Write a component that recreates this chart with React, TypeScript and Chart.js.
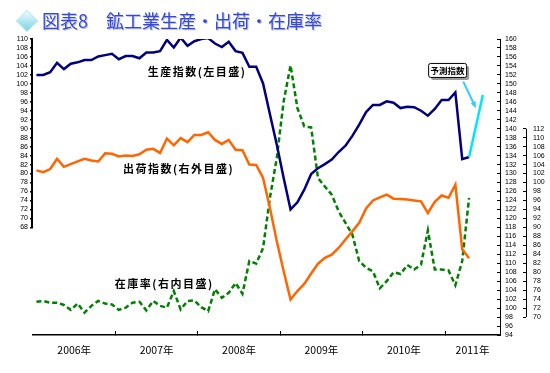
import React, { useEffect, useRef } from 'react';
import { Chart, registerables } from 'chart.js';

Chart.register(...registerables);

// ---------- data ----------
const firstYear = 2006;
const monthCount = 68; // 2006-01 .. 2011-08
const months: string[] = [];
for (let i = 0; i < monthCount; i++) {
  const y = firstYear + Math.floor(i / 12);
  const m = (i % 12) + 1;
  months.push(`${y}-${m < 10 ? '0' + m : m}`);
}
const yearLabels = ['2006年', '2007年', '2008年', '2009年', '2010年', '2011年'];

// 鉱工業生産指数 (left axis) 2006-01 .. 2011-04
const production = [
  102.0, 102.0, 102.6, 104.7, 103.3, 104.5, 104.8, 105.3, 105.3, 106.1, 106.4, 106.7,
  105.5, 106.2, 106.2, 105.7, 107.0, 107.0, 107.3, 109.8, 108.1, 110.3, 108.5, 109.5,
  110.0, 110.2, 109.0, 108.2, 109.4, 107.3, 106.9, 103.8, 103.8, 100.1, 93.2, 86.4,
  79.0, 72.0, 73.6, 76.4, 79.9, 81.2, 82.1, 83.1, 84.8, 86.2, 88.4, 90.9,
  93.7, 95.3, 95.3, 96.1, 95.8, 94.6, 94.9, 94.8, 94.0, 92.9, 94.4, 96.4,
  96.4, 98.1, 83.2, 83.7,
];
// 出荷指数 (right outer axis)
const shipments = [
  102.7, 102.3, 103.0, 105.3, 103.5, 104.1, 104.7, 105.3, 104.9, 104.7, 106.5, 106.4,
  105.8, 106.0, 105.9, 106.3, 107.3, 107.5, 106.6, 109.8, 108.3, 109.9, 109.0, 110.6,
  110.6, 111.2, 109.5, 108.6, 109.5, 107.3, 107.2, 104.0, 103.9, 101.0, 94.3, 86.9,
  80.2, 73.9, 75.8, 77.4, 79.7, 81.9, 83.2, 83.9, 85.4, 87.3, 89.1, 91.0,
  94.2, 96.0, 96.7, 97.3, 96.4, 96.3, 96.2, 96.0, 95.8, 93.2, 95.7, 97.1,
  96.6, 99.5, 85.1, 83.1,
];
// 在庫率 (right inner axis)
const inventoryRatio = [
  101.4, 101.6, 101.2, 101.2, 100.7, 99.6, 101.0, 99.0, 100.5, 101.6, 101.0, 100.8,
  99.6, 100.1, 101.2, 101.4, 99.5, 101.6, 100.5, 100.1, 103.8, 99.7, 101.6, 101.7,
  100.2, 99.3, 104.2, 102.3, 103.4, 105.6, 103.2, 110.5, 109.9, 113.4, 124.6, 133.5,
  146.1, 154.1, 144.6, 140.5, 140.3, 129.0, 127.1, 125.3, 121.6, 119.0, 116.4, 110.5,
  109.0, 108.2, 104.4, 106.0, 108.0, 107.6, 109.6, 108.6, 109.7, 117.3, 108.6, 108.6,
  108.4, 105.1, 110.5, 124.6,
];
// 予測指数 2011-04 .. 2011-06
const forecastStart = '2011-04';
const forecast = [83.7, 90.6, 97.5];

// axis ranges
const leftMin = 44, leftMax = 110, leftShownMin = 68;
const innerMin = 94, innerMax = 160;
const outerMin = 66, outerMax = 132, outerShownMin = 70, outerShownMax = 112;

// ---------- annotation placement (data coordinates: month index, left-axis value) ----------
const seriesNotes = [
  { text: '生産指数(左目盛)', at: 16.2, level: 102.7 },
  { text: '出荷指数(右外目盛)', at: 12.6, level: 81.1 },
  { text: '在庫率(右内目盛)', at: 11.4, level: 55.5 },
];
const calloutText = '予測指数';
const calloutAt = { at: 59.8, level: 103.1 };
const arrowFrom = { at: 62.15, level: 100.5 };
const arrowTo = { at: 64.0, level: 94.6 };

// derived year ticks
const yearCenters: number[] = [];
const yearBounds: number[] = [];
for (let k = 0; k < yearLabels.length; k++) {
  const s = k * 12;
  const e = Math.min(s + 11, monthCount - 1);
  yearCenters.push((s + e) / 2);
  if (k > 0) yearBounds.push(s - 0.5);
}

const tickFont = { family: '"Liberation Sans", Arial, sans-serif', size: 7 };

const decorPlugin = {
  id: 'decor',
  afterDraw(chart: any) {
    const { ctx, scales } = chart;
    const x = scales.x, yL = scales.y, yO = scales.yO;
    ctx.save();
    // left axis line (only over labelled range)
    ctx.strokeStyle = '#000';
    ctx.lineWidth = 2;
    ctx.beginPath();
    ctx.moveTo(yL.right - 1, yL.getPixelForValue(leftMax));
    ctx.lineTo(yL.right - 1, yL.getPixelForValue(leftShownMin));
    ctx.stroke();
    // outer right axis line
    ctx.lineWidth = 1;
    const ox = Math.round(yO.left) + 0.5;
    ctx.beginPath();
    ctx.moveTo(ox, yO.getPixelForValue(outerShownMax));
    ctx.lineTo(ox, yO.getPixelForValue(outerShownMin));
    ctx.stroke();

    // series notes
    ctx.fillStyle = '#000';
    ctx.font = 'bold 11px "Noto Sans CJK JP"';
    ctx.textAlign = 'left';
    ctx.textBaseline = 'middle';
    (ctx as any).letterSpacing = '1.5px';
    for (const n of seriesNotes) {
      ctx.fillText(n.text, x.getPixelForValue(n.at), yL.getPixelForValue(n.level));
    }
    (ctx as any).letterSpacing = '0px';

    // callout box
    const cx = x.getPixelForValue(calloutAt.at);
    const cy = yL.getPixelForValue(calloutAt.level);
    const bw = 38, bh = 14;
    const bx = cx - bw / 2, by = cy - bh / 2;
    ctx.fillStyle = '#9a9a9a';
    ctx.beginPath();
    ctx.roundRect(bx + 3, by + 3, bw, bh, 2);
    ctx.fill();
    ctx.fillStyle = '#fff';
    ctx.strokeStyle = '#000';
    ctx.lineWidth = 1;
    ctx.beginPath();
    ctx.roundRect(bx + 0.5, by + 0.5, bw, bh, 2);
    ctx.fill();
    ctx.stroke();
    ctx.fillStyle = '#000';
    ctx.font = 'bold 8.5px "Noto Sans CJK JP"';
    ctx.textAlign = 'center';
    ctx.fillText(calloutText, cx + 0.5, cy + 1);

    // arrow
    const ax1 = x.getPixelForValue(arrowFrom.at), ay1 = yL.getPixelForValue(arrowFrom.level);
    const ax2 = x.getPixelForValue(arrowTo.at), ay2 = yL.getPixelForValue(arrowTo.level);
    const ang = Math.atan2(ay2 - ay1, ax2 - ax1);
    ctx.strokeStyle = '#33ccff';
    ctx.fillStyle = '#33ccff';
    ctx.lineWidth = 2;
    ctx.beginPath();
    ctx.moveTo(ax1, ay1);
    ctx.lineTo(ax2 - 4 * Math.cos(ang), ay2 - 4 * Math.sin(ang));
    ctx.stroke();
    ctx.beginPath();
    ctx.moveTo(ax2, ay2);
    ctx.lineTo(ax2 - 7 * Math.cos(ang - 0.4), ay2 - 7 * Math.sin(ang - 0.4));
    ctx.lineTo(ax2 - 7 * Math.cos(ang + 0.4), ay2 - 7 * Math.sin(ang + 0.4));
    ctx.closePath();
    ctx.fill();
    ctx.restore();
  },
};

export default function App() {
  const ref = useRef<HTMLCanvasElement | null>(null);

  useEffect(() => {
    if (!ref.current) return;
    const fStart = months.indexOf(forecastStart);
    const chart = new Chart(ref.current, {
      type: 'line',
      data: {
        datasets: [
          {
            label: '予測指数',
            data: forecast.map((v, k) => ({ x: fStart + k, y: v })),
            borderColor: '#00e5ff',
            borderWidth: 2.5,
            yAxisID: 'y',
            pointRadius: 0,
          },
          {
            label: '生産指数',
            data: production.map((v, i) => ({ x: i, y: v })),
            borderColor: '#000080',
            borderWidth: 2.5,
            yAxisID: 'y',
            pointRadius: 0,
          },
          {
            label: '出荷指数',
            data: shipments.map((v, i) => ({ x: i, y: v })),
            borderColor: '#ff6600',
            borderWidth: 2.5,
            yAxisID: 'yO',
            pointRadius: 0,
          },
          {
            label: '在庫率',
            data: inventoryRatio.map((v, i) => ({ x: i, y: v })),
            borderColor: '#008000',
            borderWidth: 2.5,
            borderDash: [5, 3],
            yAxisID: 'yG',
            pointRadius: 0,
          },
        ],
      },
      options: {
        animation: false,
        responsive: true,
        maintainAspectRatio: false,
        layout: { padding: { top: 39, left: 0, right: 0, bottom: 0 } },
        plugins: { legend: { display: false }, tooltip: { enabled: false }, title: { display: false } },
        elements: { line: { tension: 0 }, point: { radius: 0 } },
        scales: {
          x: {
            type: 'linear',
            min: -0.5,
            max: monthCount - 0.5,
            afterBuildTicks: (s: any) => {
              s.ticks = [...yearCenters, ...yearBounds].sort((a, b) => a - b).map((v) => ({ value: v }));
            },
            afterFit: (s: any) => { s.height = 38; },
            ticks: {
              autoSkip: false,
              maxRotation: 0,
              padding: 13,
              color: '#000',
              font: { family: '"Noto Sans CJK JP"', size: 10.5 },
              callback: (v: any) => {
                const k = yearCenters.indexOf(Number(v));
                return k >= 0 ? yearLabels[k] : '';
              },
            },
            grid: {
              drawOnChartArea: false,
              tickLength: -4,
              lineWidth: 1,
              color: (c: any) => (c.tick && yearBounds.includes(c.tick.value) ? '#000' : 'rgba(0,0,0,0)'),
            },
            border: { display: true, color: '#000', width: 1.5 },
          },
          y: {
            type: 'linear',
            position: 'left',
            min: leftMin,
            max: leftMax,
            afterFit: (s: any) => { s.width = 33; },
            ticks: {
              stepSize: 2,
              autoSkip: false,
              maxTicksLimit: 200,
              padding: 2,
              color: '#000',
              font: tickFont,
              callback: (v: any) => (Number(v) >= leftShownMin ? String(v) : ''),
            },
            grid: {
              drawOnChartArea: false,
              tickLength: 3,
              lineWidth: 1.5,
              color: (c: any) => (c.tick && c.tick.value >= leftShownMin ? '#000' : 'rgba(0,0,0,0)'),
            },
            border: { display: false },
          },
          yG: {
            type: 'linear',
            position: 'right',
            weight: 0,
            min: innerMin,
            max: innerMax,
            afterFit: (s: any) => { s.width = 26; },
            ticks: {
              stepSize: 2,
              autoSkip: false,
              maxTicksLimit: 200,
              padding: 8,
              color: '#000',
              font: tickFont,
              callback: (v: any) => String(v),
            },
            grid: { drawOnChartArea: false, tickLength: -3, lineWidth: 1, color: '#000' },
            border: { display: true, color: '#000', width: 1 },
          },
          yO: {
            type: 'linear',
            position: 'right',
            weight: 1,
            min: outerMin,
            max: outerMax,
            afterFit: (s: any) => { s.width = 24; },
            ticks: {
              stepSize: 2,
              autoSkip: false,
              maxTicksLimit: 200,
              padding: 10,
              color: '#000',
              font: tickFont,
              callback: (v: any) => {
                const n = Number(v);
                return n >= outerShownMin && n <= outerShownMax ? String(v) : '';
              },
            },
            grid: {
              drawOnChartArea: false,
              tickLength: -3,
              lineWidth: 1,
              color: (c: any) =>
                c.tick && c.tick.value >= outerShownMin && c.tick.value <= outerShownMax ? '#000' : 'rgba(0,0,0,0)',
            },
            border: { display: false },
          },
        },
      },
      plugins: [decorPlugin],
    });
    return () => chart.destroy();
  }, []);

  return (
    <div style={{ position: 'fixed', left: 0, top: 0, width: 550, height: 373, background: '#fff' }}>
      <canvas ref={ref} />
      <div
        style={{
          position: 'absolute',
          left: 20,
          top: 14,
          width: 14,
          height: 14,
          transform: 'rotate(45deg)',
          background: 'linear-gradient(135deg, #eefbfd 0%, #a6e3ee 60%, #7fd0e2 100%)',
          boxShadow: '0 0 0 1px #b8e8f0',
        }}
      />
      <div
        style={{
          position: 'absolute',
          left: 42,
          top: 10,
          fontFamily: '"Noto Sans CJK JP"',
          fontSize: 18,
          lineHeight: '21px',
          color: '#3848d4',
          whiteSpace: 'nowrap',
          textShadow: '1px 1px 0 #b9c2f2',
        }}
      >
        図表8　鉱工業生産・出荷・在庫率
      </div>
    </div>
  );
}
